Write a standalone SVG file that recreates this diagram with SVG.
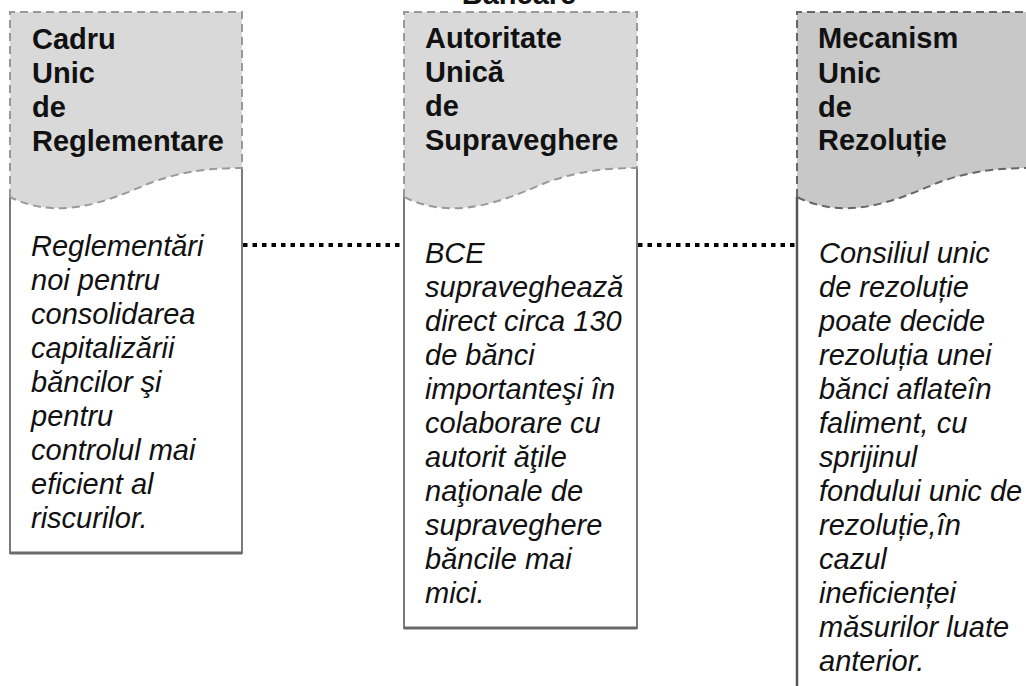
<svg xmlns="http://www.w3.org/2000/svg" width="1026" height="686" viewBox="0 0 1026 686">
<style>
.hdr{fill:#d9d9d9;stroke:#999;stroke-width:2;stroke-dasharray:8 5}
.hdr3{fill:#c8c8c8;stroke:#666;stroke-width:2;stroke-dasharray:8 5}
.body{fill:#fff;stroke:#7a7a7a;stroke-width:2}
.bot{fill:none;stroke:#6a6a6a;stroke-width:3}
.t{font-family:"Liberation Sans",Arial,sans-serif;font-size:29px;font-weight:bold;fill:#111}
.b{font-family:"Liberation Sans",Arial,sans-serif;font-size:29px;font-style:italic;fill:#111}
.dot{stroke:#000;stroke-width:4;stroke-dasharray:4.5 5;fill:none}
</style>
<rect width="1026" height="686" fill="#fff"/>
<g id="connectors">
<line class="dot" x1="243" y1="245" x2="403" y2="245"/>
<line class="dot" x1="638" y1="245" x2="797" y2="245"/>
</g>
<g id="node-cadru">
<path class="body" d="M10,197 L10,553 L242,553 L242,168"/>
<line class="bot" x1="10" y1="553" x2="242" y2="553"/>
<path class="hdr" d="M10,197 L10,12 L242,12 L242,168 C215,168 185,170 150,183 C110,200 60,222 10,197 Z"/>
<text class="t" x="32"><tspan x="32" y="49">Cadru</tspan><tspan x="32" y="83">Unic</tspan><tspan x="32" y="117">de</tspan><tspan x="32" y="151">Reglementare</tspan></text>
<text class="b"><tspan x="31" y="256">Reglementări</tspan><tspan x="31" y="290">noi pentru</tspan><tspan x="31" y="324">consolidarea</tspan><tspan x="31" y="358">capitalizării</tspan><tspan x="31" y="392">băncilor şi</tspan><tspan x="31" y="426">pentru</tspan><tspan x="31" y="460">controlul mai</tspan><tspan x="31" y="494">eficient al</tspan><tspan x="31" y="528">riscurilor.</tspan></text>
</g>
<g id="node-autoritate">
<path class="body" d="M404,197 L404,628 L637,628 L637,168"/>
<line class="bot" x1="404" y1="628" x2="637" y2="628"/>
<path class="hdr" d="M404,197 L404,12 L637,12 L637,168 C610,168 580,170 545,183 C505,200 455,222 404,197 Z"/>
<text class="t" x="519" y="4" text-anchor="middle">Bancare</text>
<text class="t"><tspan x="425" y="48">Autoritate</tspan><tspan x="425" y="82">Unică</tspan><tspan x="425" y="116">de</tspan><tspan x="425" y="150">Supraveghere</tspan></text>
<text class="b"><tspan x="425" y="263">BCE</tspan><tspan x="425" y="297">supraveghează</tspan><tspan x="425" y="331">direct circa 130</tspan><tspan x="425" y="365">de bănci</tspan><tspan x="425" y="399">importanteşi în</tspan><tspan x="425" y="433">colaborare cu</tspan><tspan x="425" y="467">autorit ăţile</tspan><tspan x="425" y="501">naţionale de</tspan><tspan x="425" y="535">supraveghere</tspan><tspan x="425" y="569">băncile mai</tspan><tspan x="425" y="603">mici.</tspan></text>
</g>
<g id="node-mecanism">
<path class="body" d="M797,197 L797,700" style="stroke:#555;stroke-width:2.5"/>
<path class="hdr3" d="M797,197 L797,12 L1030,12 L1030,168 C1002,168 972,170 937,183 C897,200 847,222 797,197 Z"/>
<text class="t"><tspan x="818" y="48">Mecanism</tspan><tspan x="818" y="83">Unic</tspan><tspan x="818" y="117">de</tspan><tspan x="818" y="150">Rezoluție</tspan></text>
<text class="b"><tspan x="819" y="263">Consiliul unic</tspan><tspan x="819" y="297">de rezoluție</tspan><tspan x="819" y="331">poate decide</tspan><tspan x="819" y="365">rezoluția unei</tspan><tspan x="819" y="399">bănci aflateîn</tspan><tspan x="819" y="433">faliment, cu</tspan><tspan x="819" y="467">sprijinul</tspan><tspan x="819" y="501">fondului unic de</tspan><tspan x="819" y="535">rezoluție,în</tspan><tspan x="819" y="569">cazul</tspan><tspan x="819" y="603">ineficienței</tspan><tspan x="819" y="637">măsurilor luate</tspan><tspan x="819" y="671">anterior.</tspan></text>
</g>
</svg>
